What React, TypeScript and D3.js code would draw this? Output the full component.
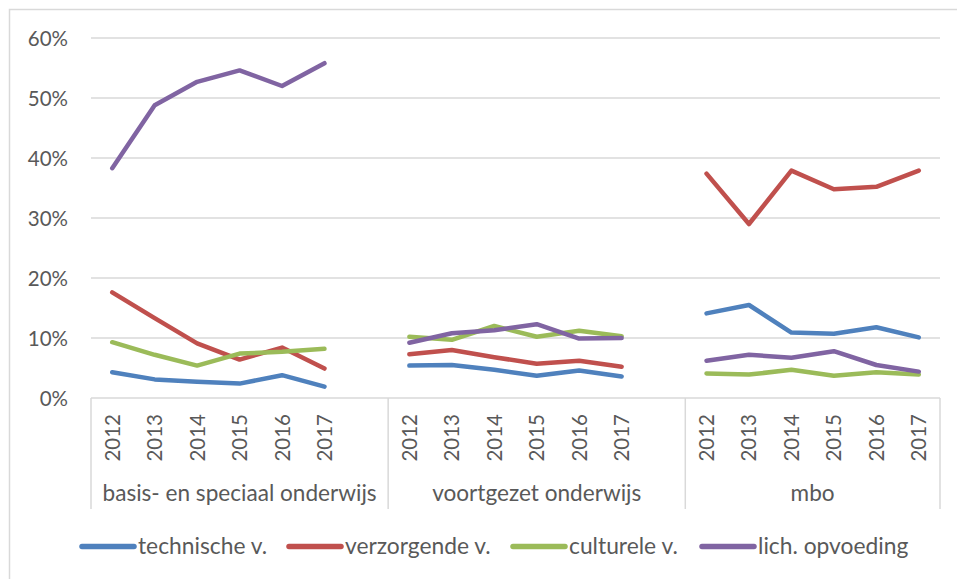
import React from "react";
import * as d3 from "d3";

const groups = ["basis- en speciaal onderwijs", "voortgezet onderwijs", "mbo"];
const years = ["2012", "2013", "2014", "2015", "2016", "2017"];
const seriesNames = ["technische v.", "verzorgende v.", "culturele v.", "lich. opvoeding"];
const seriesColors = ["#4F81BD", "#C0504D", "#9BBB59", "#8064A2"];

// values in %, per group, per year
const technische = [
  [4.3, 3.1, 2.7, 2.4, 3.8, 1.9],
  [5.4, 5.5, 4.7, 3.7, 4.6, 3.6],
  [14.1, 15.5, 10.9, 10.7, 11.8, 10.1],
];
const verzorgende = [
  [17.6, 13.3, 9.1, 6.4, 8.4, 4.9],
  [7.3, 8.0, 6.8, 5.7, 6.2, 5.2],
  [37.4, 29.0, 37.9, 34.8, 35.2, 37.9],
];
const culturele = [
  [9.3, 7.2, 5.4, 7.4, 7.7, 8.2],
  [10.2, 9.7, 12.0, 10.2, 11.2, 10.3],
  [4.1, 3.9, 4.7, 3.7, 4.3, 3.9],
];
const lichOpvoeding = [
  [38.3, 48.8, 52.7, 54.6, 52.0, 55.8],
  [9.2, 10.8, 11.3, 12.3, 9.9, 10.0],
  [6.2, 7.2, 6.7, 7.8, 5.5, 4.4],
];
const yTicks = [0, 10, 20, 30, 40, 50, 60];

const allSeries = [technische, verzorgende, culturele, lichOpvoeding];

export default function App() {
  const W = 957, H = 579;
  const left = 91, right = 940, top = 38, bottom = 398;
  const font = "Lato, 'Open Sans', sans-serif";
  const textColor = "#595959";
  const grid = "#D9D9D9";

  // slots: 6 years + 1 empty per group, last group without trailing empty
  const slotKeys: string[] = [];
  groups.forEach((g, gi) => {
    years.forEach((y) => slotKeys.push(`${gi}-${y}`));
    if (gi < groups.length - 1) slotKeys.push(`${gi}-gap`);
  });
  const x = d3.scaleBand<string>().domain(slotKeys).range([left, right]).padding(0);
  const y = d3.scaleLinear().domain([0, 60]).range([bottom, top]);
  const cx = (gi: number, yi: number) => (x(`${gi}-${years[yi]}`) as number) + x.bandwidth() / 2;

  const line = d3
    .line<[number, number]>()
    .x((d) => d[0])
    .y((d) => d[1]);

  const groupBounds = groups.map((_, gi) => {
    const start = x(`${gi}-${years[0]}`) as number;
    const end = gi < groups.length - 1 ? (x(`${gi}-gap`) as number) + x.bandwidth() : right;
    return [start, end];
  });
  const sepXs = [left, ...groupBounds.map((b) => b[1])];

  const legendX = [80, 287, 511, 700];

  return (
    <svg
      width={W}
      height={H}
      style={{ position: "absolute", left: 0, top: 0, background: "#fff" }}
      fontFamily={font}
    >
      <rect x={9.5} y={9.5} width={W + 10} height={H + 10} fill="#fff" stroke={grid} strokeWidth={1.5} />
      {yTicks.map((t) => (
        <g key={t}>
          {t > 0 && (
            <line x1={left} x2={right} y1={y(t)} y2={y(t)} stroke={grid} strokeWidth={1.5} />
          )}
          <text
            x={68}
            y={y(t) + 7.5}
            textAnchor="end"
            fontSize={20.5}
            fill={textColor}
          >
            {t}%
          </text>
        </g>
      ))}
      <line x1={left} x2={right} y1={bottom} y2={bottom} stroke={grid} strokeWidth={1.5} />
      {sepXs.map((sx, i) => (
        <line key={i} x1={sx} x2={sx} y1={bottom} y2={509} stroke={grid} strokeWidth={1.5} />
      ))}
      {groups.map((g, gi) => (
        <g key={g}>
          {years.map((yr, yi) => (
            <text
              key={yr}
              transform={`translate(${cx(gi, yi) + 7.5},414) rotate(-90)`}
              textAnchor="end"
              fontSize={20.5}
              fill={textColor}
            >
              {yr}
            </text>
          ))}
          <text
            x={(groupBounds[gi][0] + groupBounds[gi][1]) / 2}
            y={501}
            textAnchor="middle"
            fontSize={22.6}
            fill={textColor}
          >
            {g}
          </text>
        </g>
      ))}
      {allSeries.map((s, si) =>
        s.map((vals, gi) => (
          <path
            key={`${si}-${gi}`}
            d={line(vals.map((v, yi) => [cx(gi, yi), y(v)])) as string}
            fill="none"
            stroke={seriesColors[si]}
            strokeWidth={4.5}
            strokeLinecap="round"
            strokeLinejoin="round"
          />
        ))
      )}
      {seriesNames.map((n, si) => (
        <g key={n}>
          <line
            x1={legendX[si] + 2}
            x2={legendX[si] + 54}
            y1={546.5}
            y2={546.5}
            stroke={seriesColors[si]}
            strokeWidth={5.5}
            strokeLinecap="round"
          />
          <text x={legendX[si] + 58} y={554} fontSize={22.8} fill={textColor}>
            {n}
          </text>
        </g>
      ))}
    </svg>
  );
}
